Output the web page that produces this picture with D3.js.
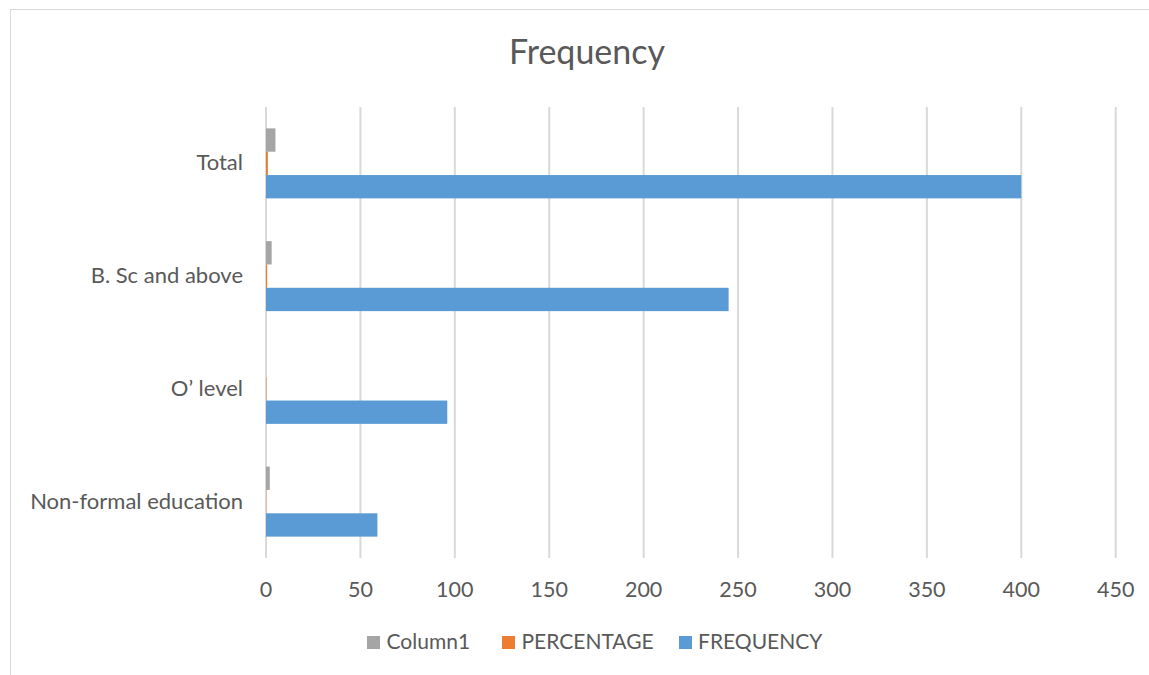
<!DOCTYPE html>
<html>
<head>
<meta charset="utf-8">
<script src="https://cdn.jsdelivr.net/npm/d3@7"></script>
<style>
  body { margin: 0; background: #fff; }
  text { font-family: Lato, "Open Sans", sans-serif; fill: #595959; }
</style>
</head>
<body>
<svg id="chart" width="1149" height="675"></svg>
<script>
// chart data
const categories = ["Total", "B. Sc and above", "O\u2019 level", "Non-formal education"];
const frequency = [400, 245, 96, 59];
const percentage = [1.0, 0.6125, 0.24, 0.1475];
const column1 = [5, 3, 0, 2];
const xTicks = [0, 50, 100, 150, 200, 250, 300, 350, 400, 450];

// series top to bottom inside each group
const seriesNames = ["Column1", "PERCENTAGE", "FREQUENCY"];
const seriesColors = ["#a5a5a5", "#ed7d31", "#5b9bd5"];
const seriesValues = [column1, percentage, frequency];

const svg = d3.select("#chart");

// chart area border
svg.append("rect")
   .attr("x", 10.5).attr("y", 9.5)
   .attr("width", 1200).attr("height", 700)
   .attr("fill", "none")
   .attr("stroke", "#d9d9d9");

const plot = { left: 266, right: 1115.7, top: 107, bottom: 558 };

const x = d3.scaleLinear().domain([0, 450]).range([plot.left, plot.right]);
const y = d3.scaleBand().domain(categories).range([plot.top, plot.bottom])
            .paddingInner(0).paddingOuter(0);
const inner = d3.scaleBand().domain(seriesNames).range([0, 70]);
const groupOffset = (y.bandwidth() - 70) / 2;

// title
svg.append("text")
   .attr("x", 587).attr("y", 64)
   .attr("text-anchor", "middle")
   .style("font-size", "34px")
   .text("Frequency");

// vertical gridlines
svg.append("g").selectAll("line")
   .data(xTicks)
   .join("line")
   .attr("x1", d => x(d)).attr("x2", d => x(d))
   .attr("y1", plot.top).attr("y2", plot.bottom)
   .attr("stroke", "#d9d9d9")
   .attr("stroke-width", 2);

// bars
seriesNames.forEach((name, i) => {
  svg.append("g").selectAll("rect")
     .data(categories.map((c, j) => ({ cat: c, value: seriesValues[i][j] })))
     .join("rect")
     .attr("x", x(0))
     .attr("y", d => y(d.cat) + groupOffset + inner(name))
     .attr("width", d => x(d.value) - x(0))
     .attr("height", inner.bandwidth())
     .attr("fill", seriesColors[i]);
});

// x axis tick labels
svg.append("g").selectAll("text")
   .data(xTicks)
   .join("text")
   .attr("x", d => x(d))
   .attr("y", 597)
   .attr("text-anchor", "middle")
   .style("font-size", "21.5px")
   .text(d => d);

// category labels
svg.append("g").selectAll("text")
   .data(categories)
   .join("text")
   .attr("x", 243)
   .attr("y", d => y(d) + y.bandwidth() / 2 + 7)
   .attr("text-anchor", "end")
   .style("font-size", "22px")
   .text(d => d);

// legend
const legendItems = [
  { name: "Column1", color: "#a5a5a5", x: 367, tx: 386.5 },
  { name: "PERCENTAGE", color: "#ed7d31", x: 502, tx: 521.5 },
  { name: "FREQUENCY", color: "#5b9bd5", x: 679, tx: 698 }
];
const legend = svg.append("g");
legendItems.forEach(item => {
  legend.append("rect")
        .attr("x", item.x).attr("y", 636)
        .attr("width", 13).attr("height", 13)
        .attr("fill", item.color);
  legend.append("text")
        .attr("x", item.tx).attr("y", 649)
        .style("font-size", "21px")
        .text(item.name);
});
</script>
</body>
</html>
